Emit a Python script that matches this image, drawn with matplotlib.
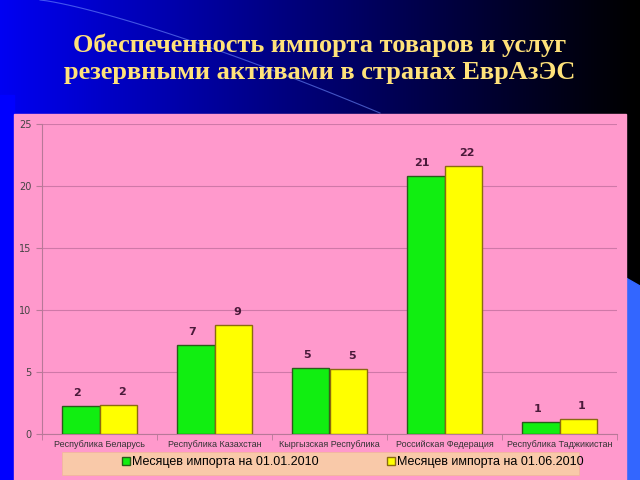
import numpy as np
import matplotlib.pyplot as plt
from matplotlib.patches import Rectangle, Polygon

countries = ["Республика Беларусь", "Республика Казахстан", "Кыргызская Республика",
             "Российская Федерация", "Республика Таджикистан"]
jan2010 = [2.25, 7.2, 5.3, 20.8, 0.95]
jun2010 = [2.3, 8.8, 5.25, 21.6, 1.2]
jan_labels = ["2", "7", "5", "21", "1"]
jun_labels = ["2", "9", "5", "22", "1"]
series_names = ["Месяцев импорта на 01.01.2010", "Месяцев импорта на 01.06.2010"]

fig = plt.figure(figsize=(6.4, 4.8), dpi=100)

# slide background: blue to black gradient
bg = fig.add_axes([0, 0, 1, 1])
bg.set_xlim(0, 640)
bg.set_ylim(480, 0)
bg.axis("off")
grad = np.linspace(0, 1, 256)
cols = np.zeros((1, 256, 3))
cols[0, :, 2] = np.clip(0.95 * (1 - grad) ** 1.1, 0, 1)
bg.imshow(cols, extent=[0, 640, 480, 0], aspect="auto")
bg.add_patch(Rectangle((0, 95), 14, 385, color="#0000ff"))
bg.add_patch(Polygon([[626, 278], [640, 286], [640, 480], [626, 480]], color="#3366ff"))
t = np.linspace(0, 1, 50)
bg.plot(40 + 340 * t, 113 * t ** 1.25, color="#6f8cff", lw=0.8, alpha=0.6)
bg.add_patch(Rectangle((14, 114), 612, 370, color="#ff99cc", zorder=3))

fig.text(0.5, 1 - 59 / 480, "Обеспеченность импорта товаров и услуг\nрезервными активами в странах ЕврАзЭС",
         ha="center", va="center", fontsize=19, fontweight="bold", color="#ffe27a",
         family="Liberation Serif", linespacing=1.2)

ax = fig.add_axes([42 / 640, 1 - 434 / 480, 575 / 640, 310 / 480])
ax.set_facecolor("none")
x = np.arange(len(countries))
w = 0.33
b1 = ax.bar(x - w / 2, jan2010, w, color="#11ee11", edgecolor="#2a5a1a", lw=1, zorder=3)
b2 = ax.bar(x + w / 2, jun2010, w, color="#ffff00", edgecolor="#8a6a10", lw=1, zorder=3)
for i in range(len(countries)):
    ax.text(x[i] - w / 2 - 0.03, jan2010[i] + 1.05, jan_labels[i], ha="center", va="center",
            fontsize=8, fontweight="bold", color="#4a1a3a")
    ax.text(x[i] + w / 2 + 0.03, jun2010[i] + 1.05, jun_labels[i], ha="center", va="center",
            fontsize=8, fontweight="bold", color="#4a1a3a")

ax.set_xlim(-0.5, len(countries) - 0.5)
ax.set_ylim(0, 25)
ax.set_yticks([0, 5, 10, 15, 20, 25])
ax.yaxis.grid(True, color="#cf78a8", lw=0.8)
ax.set_axisbelow(True)
ax.set_xticks(x)
ax.set_xticklabels(countries, fontsize=6.5, color="#333333", family="Liberation Sans")
ax.set_xticks(np.arange(len(countries) + 1) - 0.5, minor=True)
ax.tick_params(axis="x", which="major", length=0, pad=4)
ax.tick_params(axis="x", which="minor", length=4, color="#b87898")
ax.tick_params(axis="y", length=4, color="#b87898", labelsize=7, labelcolor="#444444")
for s in ["top", "right"]:
    ax.spines[s].set_visible(False)
for s in ["left", "bottom"]:
    ax.spines[s].set_color("#b87898")

bg.add_patch(Rectangle((62, 452), 517, 23, facecolor="#f9c9a9", edgecolor="#f0b898", lw=0.5, zorder=4))
fig.legend([b1, b2], series_names, loc="center", ncol=2, frameon=False,
           bbox_to_anchor=(353 / 640, 1 - 462 / 480), handlelength=0.6,
           handleheight=0.6, handletextpad=0.2, columnspacing=5.5,
           prop={"family": "Liberation Sans", "size": 9})

fig.savefig("out.png", dpi=100)
